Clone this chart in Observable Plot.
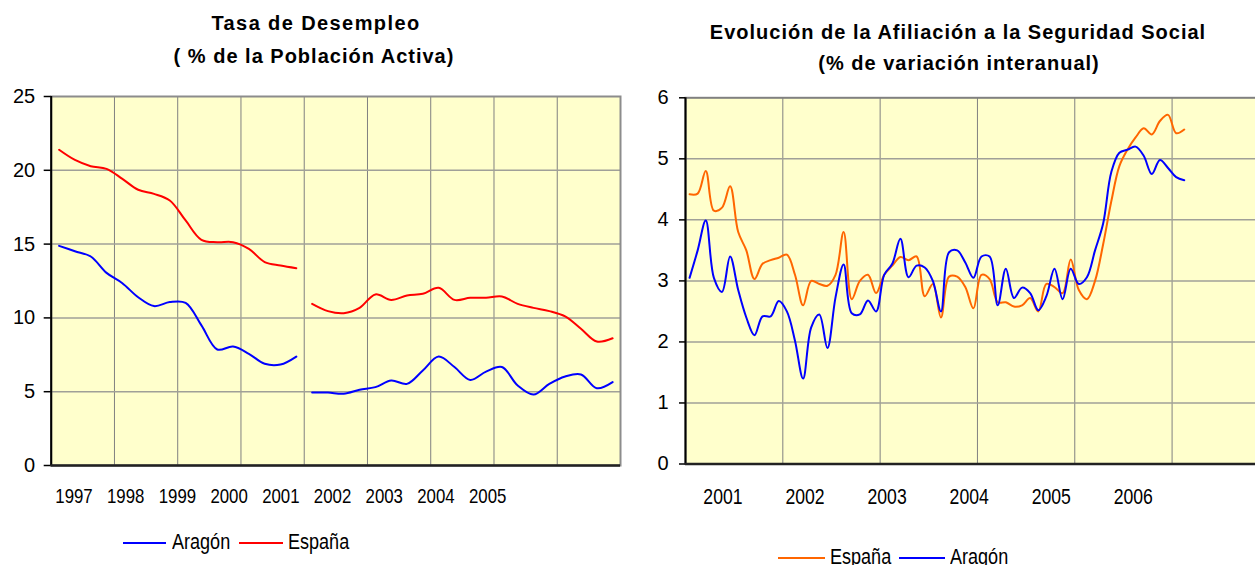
<!DOCTYPE html>
<html><head><meta charset="utf-8">
<script src="https://cdn.jsdelivr.net/npm/d3@7"></script>
<script src="https://cdn.jsdelivr.net/npm/@observablehq/plot@0.6"></script>
<style>
body{margin:0;background:#fff;}
#root{position:relative;width:1255px;height:565px;overflow:hidden;font-family:"Liberation Sans",Arial,sans-serif;color:#000;}
.title{position:absolute;font-weight:bold;font-size:20px;letter-spacing:1px;line-height:1;white-space:nowrap;transform:translateX(-50%);}
.panel{position:absolute;top:80px;height:420px;}
.panel svg{max-width:none !important;}
.lg{position:absolute;font-family:"Liberation Sans",Arial,sans-serif;font-size:22px;line-height:1;white-space:nowrap;transform-origin:0 50%;transform:scaleX(0.82);}
.sw{position:absolute;height:2px;}
</style></head>
<body>
<div id="root">
  <div class="title" style="left:316px;top:13px;letter-spacing:1.4px;">Tasa de Desempleo</div>
  <div class="title" style="left:314px;top:46px;">( % de la Población Activa)</div>
  <div class="title" style="left:958px;top:22px;">Evolución de la Afiliación a la Seguridad Social</div>
  <div class="title" style="left:959px;top:53px;">(% de variación interanual)</div>
  <div id="left" class="panel" style="left:0px;width:635px;"></div>
  <div id="right" class="panel" style="left:640px;width:640px;"></div>
  <div id="legL"></div>
  <div id="legR"></div>
</div>
<script>
// ---------- Left chart: Tasa de Desempleo (quarterly, 1997Q1 - 2005Q4) ----------
const yearsL = ["1997","1998","1999","2000","2001","2002","2003","2004","2005"];
// EPA series break between 2000 and 2001
const espana9700 = [21.39, 20.7, 20.28, 20.1, 19.42, 18.68, 18.4, 17.95, 16.6, 15.29, 15.13, 15.13, 14.68, 13.78, 13.55, 13.37];
const aragon9700 = [14.88, 14.52, 14.16, 13.05, 12.35, 11.4, 10.8, 11.07, 11.02, 9.49, 7.86, 8.06, 7.57, 6.89, 6.84, 7.38];
const espana0105 = [10.95, 10.46, 10.32, 10.68, 11.59, 11.22, 11.52, 11.63, 12.04, 11.22, 11.36, 11.36, 11.45, 10.95, 10.68, 10.46, 10.1, 9.26, 8.4, 8.62];
const aragon0105 = [4.95, 4.94, 4.86, 5.13, 5.31, 5.76, 5.53, 6.44, 7.38, 6.67, 5.8, 6.36, 6.67, 5.42, 4.81, 5.53, 6.03, 6.17, 5.24, 5.65];
const yTicksL = [0, 5, 10, 15, 20, 25];

// ---------- Right chart: Afiliación (monthly, Jan 2001 - Feb 2006) ----------
const yearsR = ["2001","2002","2003","2004","2005","2006"];
const espanaAfil = [4.42,4.43,4.8,4.15,4.2,4.55,3.8,3.5,3.03,3.28, 3.34,3.38,3.43,3.1,2.6,3.0,2.95,2.92,3.1,3.8, 2.7,3.0,3.1,2.8,3.1,3.25,3.39,3.34,3.4,2.75, 2.95,2.4,3.07,3.07,2.9,2.55,3.1,3.03,2.65,2.65, 2.58,2.6,2.72,2.5,2.95,2.9,2.8,3.35,2.85,2.7, 3.0,3.6,4.3,4.88,5.15,5.35,5.5,5.4,5.62,5.72, 5.42,5.48];
const aragonAfil = [3.05,3.5,3.99,3.05,2.82,3.4,2.85,2.4,2.11,2.42, 2.42,2.67,2.5,2.02,1.4,2.24,2.45,1.9,2.73,3.27, 2.47,2.45,2.68,2.5,3.1,3.28,3.69,3.06,3.25,3.22, 3.0,2.5,3.47,3.5,3.3,3.05,3.4,3.4,2.6,3.2, 2.72,2.89,2.8,2.52,2.75,3.2,2.7,3.2,2.95,3.06, 3.5,3.94,4.78,5.1,5.15,5.2,5.05,4.75,4.98,4.85, 4.7,4.65];
const yTicksR = [0, 1, 2, 3, 4, 5, 6];

const colors = {espanaL: "#FF0000", aragonL: "#0000FF", espanaR: "#FF6600", aragonR: "#0000FF"};

// ---- build tables ----
const nQ = yearsL.length * 4;
const segA = (arr, off) => arr.map((v, i) => ({x: off + i + 0.5, v}));
const espL = [segA(espana9700, 0), segA(espana0105, espana9700.length)];
const araL = [segA(aragon9700, 0), segA(aragon0105, aragon9700.length)];
const yearBoundsL = yearsL.map((y, i) => i * 4).slice(1);
// tick-label layout (labels sit at a different pitch than the gridlines, as in the source)
const labStartL = 1.44, labStepL = 3.27;
const labPosL = yearsL.map((y, i) => labStartL + i * labStepL);

const nM = yearsR.length * 12; // axis spans 2001..2007
const espR = espanaAfil.map((v, i) => ({x: i + 0.5, v}));
const araR = aragonAfil.map((v, i) => ({x: i + 0.5, v}));
const yearBoundsR = yearsR.map((y, i) => i * 12).slice(1);
const labStartR = 4.62, labStepR = 10.12;
const labPosR = yearsR.map((y, i) => labStartR + i * labStepR);

const reg = '"Liberation Sans",Arial,sans-serif';
const baseStyle = {background: "transparent", overflow: "visible", color: "#000", maxWidth: "none"};

const left = Plot.plot({
  width: 635, height: 420,
  marginLeft: 50.7, marginRight: 15, marginTop: 16, marginBottom: 35,
  x: {domain: [0, nQ], axis: null},
  y: {domain: [0, 25], axis: null},
  style: baseStyle,
  marks: [
    Plot.frame({fill: "#FFFFCC"}),
    Plot.gridX({ticks: yearBoundsL, stroke: "#808080", strokeOpacity: 1, strokeWidth: 1}),
    Plot.gridY({ticks: yTicksL.slice(1, -1), stroke: "#a0a098", strokeOpacity: 1, strokeWidth: 1.5}),
    Plot.frame({stroke: "#8c8c8c", strokeWidth: 2}),
    ...espL.map(s => Plot.line(s, {x: "x", y: "v", stroke: colors.espanaL, strokeWidth: 2, curve: "catmull-rom"})),
    ...araL.map(s => Plot.line(s, {x: "x", y: "v", stroke: colors.aragonL, strokeWidth: 2, curve: "catmull-rom"})),
    Plot.ruleX([0], {stroke: "#000", strokeWidth: 2}),
    Plot.ruleY([0], {stroke: "#222", strokeWidth: 2.5}),
    Plot.axisY({ticks: yTicksL, tickFormat: d3.format("d"), label: null, tickSize: 7, tickPadding: 9, fontSize: 20, fontFamily: reg, stroke: "#000", strokeWidth: 1.5}),
    Plot.axisX({ticks: labPosL, tickFormat: d => yearsL[Math.round((d - labStartL) / labStepL)], label: null, tickSize: 0, tickPadding: 23, fontSize: 21, fontFamily: reg})
  ]
});
document.getElementById("left").appendChild(left);

const right = Plot.plot({
  width: 640, height: 420,
  marginLeft: 45, marginRight: 11.1, marginTop: 17.3, marginBottom: 36.5,
  x: {domain: [0, nM], axis: null},
  y: {domain: [0, 6], axis: null},
  style: baseStyle,
  marks: [
    Plot.frame({fill: "#FFFFCC"}),
    Plot.gridX({ticks: yearBoundsR, stroke: "#808080", strokeOpacity: 1, strokeWidth: 1}),
    Plot.gridY({ticks: yTicksR.slice(1, -1), stroke: "#a0a098", strokeOpacity: 1, strokeWidth: 1.5}),
    Plot.frame({stroke: "#808080", strokeWidth: 2}),
    Plot.line(espR, {x: "x", y: "v", stroke: colors.espanaR, strokeWidth: 2, curve: "catmull-rom"}),
    Plot.line(araR, {x: "x", y: "v", stroke: colors.aragonR, strokeWidth: 2, curve: "catmull-rom"}),
    Plot.ruleX([0], {stroke: "#000", strokeWidth: 2}),
    Plot.ruleY([0], {stroke: "#222", strokeWidth: 2.5}),
    Plot.axisY({ticks: yTicksR, tickFormat: d3.format("d"), label: null, tickSize: 6, tickPadding: 11, fontSize: 20, fontFamily: reg, stroke: "#000", strokeWidth: 1.5}),
    Plot.axisX({ticks: labPosR, tickFormat: d => yearsR[Math.round((d - labStartR) / labStepR)], label: null, tickSize: 0, tickPadding: 24, fontSize: 22, fontFamily: reg})
  ]
});
document.getElementById("right").appendChild(right);

// condense the x tick labels (source uses a narrow face)
for (const svg of [left, right]) {
  d3.select(svg).selectAll('g[aria-label="x-axis tick label"] text').each(function () {
    const w = this.getComputedTextLength();
    this.setAttribute("textLength", (w * 0.8).toFixed(1));
    this.setAttribute("lengthAdjust", "spacingAndGlyphs");
  });
}

// ---- legends (layout positions) ----
function legend(el, items, y) {
  items.forEach(it => {
    const sw = document.createElement("div");
    sw.className = "sw";
    sw.style.left = it.x0 + "px";
    sw.style.width = (it.x1 - it.x0) + "px";
    sw.style.top = (y - 1) + "px";
    sw.style.background = it.color;
    const t = document.createElement("div");
    t.className = "lg";
    t.textContent = it.label;
    t.style.left = it.tx + "px";
    t.style.top = (y - 12) + "px";
    el.appendChild(sw); el.appendChild(t);
  });
}
legend(document.getElementById("legL"), [
  {label: "Aragón", color: colors.aragonL, x0: 123, x1: 166, tx: 172},
  {label: "España", color: colors.espanaL, x0: 239, x1: 283, tx: 288}
], 543);
legend(document.getElementById("legR"), [
  {label: "España", color: colors.espanaR, x0: 778, x1: 825, tx: 830},
  {label: "Aragón", color: colors.aragonR, x0: 899, x1: 945, tx: 950}
], 558);
</script>
</body></html>
